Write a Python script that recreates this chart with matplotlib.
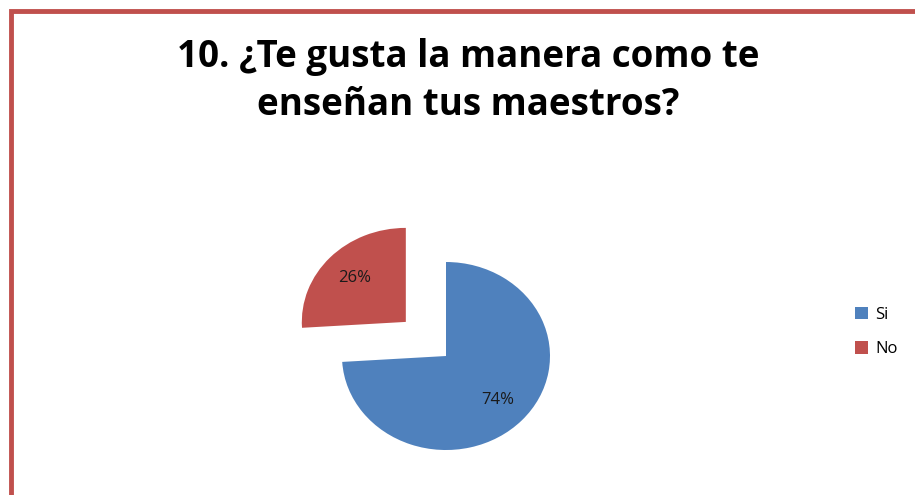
import matplotlib.pyplot as plt
from matplotlib.patches import Rectangle

labels = ['Si', 'No']
values = [74, 26]
colors = ['#4F81BD', '#C0504D']
explode = [0, 0.53]
title = '10. ¿Te gusta la manera como te\nenseñan tus maestros?'

plt.rcParams['font.family'] = ['Open Sans', 'DejaVu Sans']

fig = plt.figure(figsize=(9.15, 4.95), dpi=100)

# pie axes, slightly stretched horizontally like the original
ax = fig.add_axes([238 / 915, 15 / 495, 416 / 915, 312 / 495])
wedges, texts, autotexts = ax.pie(values, colors=colors, explode=explode,
                                  startangle=90, counterclock=False,
                                  autopct='%d%%', pctdistance=0.68,
                                  textprops={'fontsize': 12, 'color': '#1a1a1a'})
ax.set_aspect('auto')
ax.set_xlim(-2, 2)
ax.set_ylim(-1.319, 2.0)
ax.axis('off')

fig.text(468 / 915, 1 - 81 / 495, title, ha='center', va='center',
         fontsize=26.5, fontweight='bold', linespacing=1.32)

fig.legend(wedges, labels, loc='center left', bbox_to_anchor=(840 / 915, 1 - 332 / 495),
           frameon=False, fontsize=12, handlelength=0.8, handleheight=0.8,
           handletextpad=0.4, labelspacing=1.1)

# red frame, only top and left edges visible
fig.add_artist(Rectangle((11 / 915, -0.2), 1.2, 1.2 + (1 - 11 / 495) - 1,
                         transform=fig.transFigure, fill=False,
                         edgecolor='#C0504D', linewidth=3.5, clip_on=False))

fig.savefig('out.png', dpi=100)
